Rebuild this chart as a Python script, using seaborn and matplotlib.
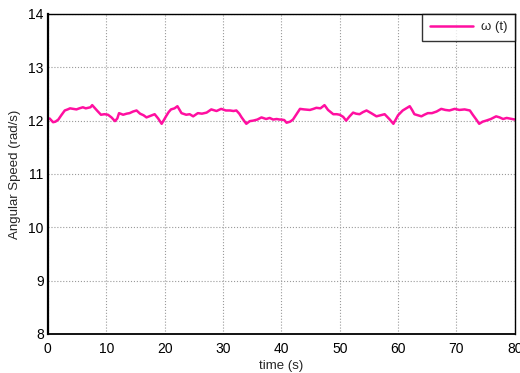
import matplotlib
matplotlib.use("Agg")
import matplotlib.pyplot as plt
import seaborn as sns
import pandas as pd

time_s = [0.0, 0.3, 0.9, 1.3, 1.8, 2.3, 2.9, 3.4, 3.8, 4.4, 4.9, 5.4, 6.0, 6.5, 6.9, 7.3, 7.6, 8.0, 8.5, 9.1, 9.7,
          10.3, 10.9, 11.5, 11.9, 12.2, 12.9, 13.5, 14.0, 14.6, 15.2, 15.8, 16.4, 16.9, 17.6, 18.3, 18.9, 19.5,
          20.3, 20.7, 21.1, 21.7, 22.2, 22.9, 23.7, 24.3, 24.9, 25.7, 26.4, 27.2, 28.0, 28.9, 29.3, 29.7, 30.5,
          31.2, 31.8, 32.3, 32.8, 33.2, 34.0, 34.6, 35.2, 35.9, 36.6, 37.4, 38.0, 38.6, 39.2, 39.7,
          40.0, 40.5, 40.9, 41.5, 42.0, 42.6, 43.2, 43.9, 44.9, 45.5, 46.0, 46.7, 47.4, 48.0, 48.9, 49.5,
          50.0, 50.6, 51.1, 51.7, 52.3, 52.8, 53.4, 54.0, 54.6, 55.4, 56.3, 57.0, 57.7, 58.5, 59.2,
          60.0, 60.8, 61.4, 62.0, 62.4, 62.8, 63.4, 64.0, 64.5, 65.1, 65.8, 66.6, 67.4, 68.1, 68.8, 69.7,
          70.5, 71.4, 72.3, 72.8, 73.4, 73.9, 74.5, 75.1, 75.9, 76.8, 77.4, 78.0, 78.6, 79.1, 79.6, 80.0]
omega = [12.03, 12.04, 11.97, 11.98, 12.02, 12.10, 12.19, 12.21, 12.23, 12.22, 12.21, 12.23, 12.25, 12.23, 12.24, 12.25, 12.29, 12.24, 12.18, 12.11, 12.12,
         12.11, 12.06, 11.99, 12.04, 12.14, 12.11, 12.13, 12.14, 12.17, 12.19, 12.13, 12.10, 12.06, 12.09, 12.12, 12.04, 11.94,
         12.09, 12.16, 12.21, 12.23, 12.27, 12.14, 12.11, 12.12, 12.08, 12.14, 12.13, 12.15, 12.21, 12.18, 12.20, 12.22, 12.19,
         12.19, 12.18, 12.19, 12.13, 12.06, 11.94, 11.99, 12.00, 12.02, 12.06, 12.03, 12.05, 12.02, 12.03, 12.02,
         12.02, 12.01, 11.96, 11.98, 12.02, 12.12, 12.22, 12.21, 12.20, 12.22, 12.24, 12.23, 12.29, 12.20, 12.12, 12.12,
         12.11, 12.07, 12.00, 12.08, 12.15, 12.13, 12.12, 12.16, 12.19, 12.14, 12.08, 12.10, 12.12, 12.03, 11.94,
         12.10, 12.19, 12.23, 12.27, 12.20, 12.12, 12.10, 12.08, 12.11, 12.14, 12.14, 12.17, 12.22, 12.20, 12.19, 12.22,
         12.20, 12.21, 12.19, 12.11, 12.02, 11.94, 11.98, 12.00, 12.03, 12.08, 12.06, 12.03, 12.05, 12.04, 12.03, 12.02]

x_ticks = [0, 10, 20, 30, 40, 50, 60, 70, 80]
y_ticks = [8, 9, 10, 11, 12, 13, 14]

sns.set_theme(style="white")
plt.rcParams['font.family'] = ['Liberation Sans', 'DejaVu Sans']

df = pd.DataFrame({"time": time_s, "omega": omega})

fig = plt.figure(figsize=(5.2, 3.73), dpi=100)
ax = fig.add_axes([0.092, 0.105, 0.898, 0.8575])
sns.lineplot(data=df, x="time", y="omega", ax=ax, color="#ff0fa0", linewidth=1.8, label="ω (t)")

ax.set_xlim(0, 80)
ax.set_ylim(8, 14)
ax.set_xticks(x_ticks)
ax.set_yticks(y_ticks)
ax.set_xticklabels([str(v) for v in x_ticks])
ax.set_yticklabels([str(v) for v in y_ticks])
ax.grid(True, color="#9a9a9a", linestyle=":", linewidth=0.8)
ax.tick_params(direction="in", length=3, labelsize=10, colors="black")
ax.tick_params(axis="x", pad=6)
ax.tick_params(axis="y", pad=3)
for s in ax.spines.values():
    s.set_color("black")
    s.set_linewidth(1.0)
ax.spines["left"].set_linewidth(1.6)
ax.spines["bottom"].set_linewidth(1.3)
ax.set_xlabel("time (s)", fontsize=9.5, labelpad=3)
ax.set_ylabel("Angular Speed (rad/s)", fontsize=9.5, labelpad=5)

leg = ax.legend(loc="upper right", fontsize=9.5, frameon=True, fancybox=False,
                borderaxespad=0, handlelength=3.3, handletextpad=0.6, borderpad=0.55)
leg.get_frame().set_edgecolor("black")
leg.get_frame().set_linewidth(1.0)

fig.savefig("out.png", dpi=100)
